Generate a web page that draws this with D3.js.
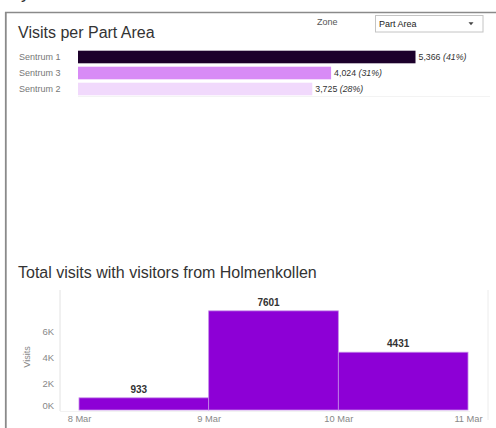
<!DOCTYPE html>
<html>
<head>
<meta charset="utf-8">
<script src="https://cdn.jsdelivr.net/npm/d3@7"></script>
<style>
  html, body { margin: 0; padding: 0; background: #fff; }
  svg { display: block; font-family: "Liberation Sans", Arial, sans-serif; }
</style>
</head>
<body>
<svg id="chart" width="496" height="428"></svg>
<script>
// ---- data ----
const areaCategories = ["Sentrum 1", "Sentrum 3", "Sentrum 2"];
const areaVisits = [5366, 4024, 3725];
const areaColors = ["#1c002b", "#d88bf6", "#f1d9fc"];

const dayLabels = ["2020-03-08", "2020-03-09", "2020-03-10"];
const dayVisits = [933, 7601, 4431];
const dayTickLabels = ["2020-03-08", "2020-03-09", "2020-03-10", "2020-03-11"];
const visitTicks = [0, 2000, 4000, 6000];

const zoneOptions = ["Part Area"];

const svg = d3.select("#chart");

// ---- frame ----
svg.append("text").attr("x", 6).attr("y", -2).attr("font-size", 18).attr("fill", "#333").text("My");
svg.append("line").attr("x1", 5).attr("x2", 496).attr("y1", 12.5).attr("y2", 12.5)
  .attr("stroke", "#8a8a8a").attr("stroke-width", 1.5);
svg.append("line").attr("x1", 5.8).attr("x2", 5.8).attr("y1", 12).attr("y2", 428)
  .attr("stroke", "#8a8a8a").attr("stroke-width", 1.8);

// ---- top panel ----
svg.append("text").attr("x", 18).attr("y", 37.5).attr("font-size", 16).attr("fill", "#333")
  .text("Visits per Part Area");

svg.append("text").attr("x", 317).attr("y", 25).attr("font-size", 9).attr("fill", "#555").text("Zone");
svg.append("rect").attr("x", 375.5).attr("y", 15.5).attr("width", 107.5).attr("height", 16.5)
  .attr("fill", "#fff").attr("stroke", "#c4c4c4").attr("stroke-width", 1);
svg.append("text").attr("x", 379).attr("y", 26.8).attr("font-size", 9).attr("fill", "#222").text(zoneOptions[0]);
svg.append("path").attr("d", "M468.5,22.3 L473.5,22.3 L471,25.3 Z").attr("fill", "#444");

const total = d3.sum(areaVisits);
const areaData = areaCategories.map((c, i) => ({cat: c, v: areaVisits[i], color: areaColors[i]}));

const xA = d3.scaleLinear().domain([0, d3.max(areaVisits)]).range([78, 415.5]);
const yA = d3.scaleBand().domain(areaCategories).range([49.1, 96.9]).paddingInner(0.2125).paddingOuter(0.1);

svg.append("line").attr("x1", 78).attr("x2", 490).attr("y1", 96.5).attr("y2", 96.5)
  .attr("stroke", "#f3f3f3").attr("stroke-width", 1);

svg.selectAll(".abar").data(areaData).join("rect")
  .attr("x", xA(0)).attr("y", d => yA(d.cat))
  .attr("width", d => xA(d.v) - xA(0)).attr("height", yA.bandwidth())
  .attr("fill", d => d.color);

svg.selectAll(".alab").data(areaData).join("text")
  .attr("x", 19).attr("y", d => yA(d.cat) + yA.bandwidth() / 2 + 3.2)
  .attr("font-size", 9).attr("fill", "#777").text(d => d.cat);

const fmt = d3.format(",");
const vl = svg.selectAll(".aval").data(areaData).join("text")
  .attr("x", d => xA(d.v) + 3).attr("y", d => yA(d.cat) + yA.bandwidth() / 2 + 3.2)
  .attr("font-size", 8.8).attr("fill", "#333");
vl.append("tspan").text(d => fmt(d.v) + " ");
vl.append("tspan").attr("font-style", "italic").text(d => "(" + Math.round(d.v / total * 100) + "%)");

// ---- bottom panel ----
svg.append("text").attr("x", 18).attr("y", 277.5).attr("font-size", 16).attr("fill", "#333")
  .text("Total visits with visitors from Holmenkollen");

const parse = d3.timeParse("%Y-%m-%d");
const dayData = dayLabels.map((d, i) => ({start: parse(d), end: d3.timeDay.offset(parse(d), 1), v: dayVisits[i]}));
const ticks = dayTickLabels.map(parse);

const xB = d3.scaleTime().domain([ticks[0], ticks[ticks.length - 1]]).range([79, 468]);
const yB = d3.scaleLinear().domain([0, 9200]).range([410, 290]);

svg.append("line").attr("x1", 60).attr("x2", 60).attr("y1", 290).attr("y2", 411)
  .attr("stroke", "#e2e2e2").attr("stroke-width", 1);
svg.append("line").attr("x1", 488).attr("x2", 488).attr("y1", 290).attr("y2", 420)
  .attr("stroke", "#ececec").attr("stroke-width", 1);
svg.append("line").attr("x1", 60).attr("x2", 470).attr("y1", 411.5).attr("y2", 411.5)
  .attr("stroke", "#f2f2f2").attr("stroke-width", 1);

const yAxis = d3.axisLeft(yB).tickValues(visitTicks).tickSize(0).tickPadding(0)
  .tickFormat(d => (d / 1000) + "K");
const gy = svg.append("g").attr("transform", "translate(54,0)").call(yAxis);
gy.select(".domain").remove();
gy.selectAll("text").attr("font-size", 9.5).attr("fill", "#888")
  .attr("font-family", "Liberation Sans, Arial, sans-serif")
  .attr("dy", d => d === 0 ? "-0.15em" : "0.32em");

svg.append("text").attr("transform", "translate(30,357) rotate(-90)")
  .attr("text-anchor", "middle").attr("font-size", 9).attr("fill", "#888").text("Visits");

const xAxis = d3.axisBottom(xB).tickValues(ticks).tickSize(0).tickPadding(0)
  .tickFormat(d3.timeFormat("%-d %b"));
const gx = svg.append("g").attr("transform", "translate(0,419.5)").call(xAxis);
gx.select(".domain").remove();
gx.selectAll("text").attr("font-size", 9.3).attr("fill", "#888")
  .attr("font-family", "Liberation Sans, Arial, sans-serif").attr("dy", "0.32em");

svg.selectAll(".dbar").data(dayData).join("rect")
  .attr("x", d => xB(d.start)).attr("y", d => yB(d.v))
  .attr("width", d => xB(d.end) - xB(d.start)).attr("height", d => yB(0) - yB(d.v))
  .attr("fill", "#8d00d6").attr("stroke", "#c58ae8").attr("stroke-width", 0.8);

svg.selectAll(".dval").data(dayData).join("text")
  .attr("x", d => (xB(d.start) + xB(d.end)) / 2 - 5).attr("y", d => yB(d.v) - 5)
  .attr("text-anchor", "middle").attr("font-size", 10).attr("font-weight", "bold")
  .attr("fill", "#333").text(d => d.v);
</script>
</body>
</html>
